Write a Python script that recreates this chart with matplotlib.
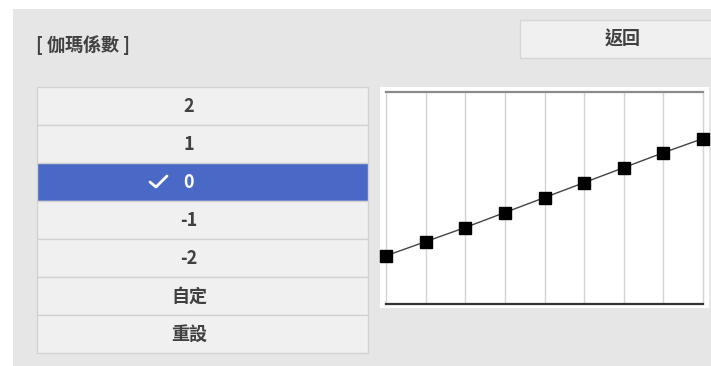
import matplotlib
matplotlib.use("Agg")
import matplotlib.pyplot as plt
from matplotlib.patches import Rectangle

plt.rcParams['font.family'] = ['Noto Sans CJK TC', 'DejaVu Sans']

title = "[ 伽瑪係數 ]"
back_label = "返回"
options = ["2", "1", "0", "-1", "-2", "自定", "重設"]
selected = "0"
curve_x = [0, 1, 2, 3, 4, 5, 6, 7, 8]
curve_y = [58, 75, 92, 110, 128, 146, 164, 182, 199]

W, H = 711, 366
fig = plt.figure(figsize=(W / 100, H / 100), dpi=100)
fig.patch.set_facecolor("white")

ui = fig.add_axes([0, 0, 1, 1], zorder=0)
ui.set_xlim(0, W)
ui.set_ylim(H, 0)
ui.axis("off")

txt = "#404040"
fs = 13
# gray panel
ui.add_patch(Rectangle((13, 9), W - 13, H - 9, facecolor="#e6e6e6", edgecolor="none"))
ui.text(36, 45, title, fontsize=fs, color=txt, va="center", ha="left", weight="bold")

# back button
ui.add_patch(Rectangle((520, 20), 200, 38, facecolor="#f0f0f0", edgecolor="#d6d6d6", lw=1))
ui.text(623, 39, back_label, fontsize=fs, color=txt, va="center", ha="center", weight="bold")

# list
top, rh, lx, rx = 87, 38, 37, 368
for i, opt in enumerate(options):
    y0 = top + i * rh
    sel = opt == selected
    ui.add_patch(Rectangle((lx, y0), rx - lx, rh,
                           facecolor="#4a69c6" if sel else "#f0f0f0",
                           edgecolor="#d2d2d2", lw=1))
    ui.text(189, y0 + rh / 2, opt, fontsize=fs, color="white" if sel else txt,
            va="center", ha="center", weight="bold")
    if sel:
        ui.plot([150, 156, 167], [y0 + 19, y0 + 24, y0 + 13], color="white", lw=2,
                solid_capstyle="round", solid_joinstyle="round")

# chart white panel
ui.add_patch(Rectangle((380, 87), 329, 221, facecolor="white", edgecolor="none"))

# chart axes
L, R, T, B = 386, 703, 92, 304
ax = fig.add_axes([L / W, (H - B) / H, (R - L) / W, (B - T) / H], zorder=1)
ax.set_facecolor("white")
ax.set_xlim(0, 8)
ax.set_ylim(0, 255)
ax.set_xticks(range(1, 8))
ax.set_yticks([])
ax.tick_params(length=0, labelbottom=False)
ax.grid(axis="x", color="#d4d4d4", lw=1)
for s in ["left", "right"]:
    ax.spines[s].set_color("#d4d4d4")
    ax.spines[s].set_linewidth(1)
ax.spines["top"].set_color("#8a8a8a")
ax.spines["top"].set_linewidth(1.6)
ax.spines["bottom"].set_color("#333333")
ax.spines["bottom"].set_linewidth(1.6)
ax.plot(curve_x, curve_y, color="#444444", lw=1, marker="s", ms=8,
        mfc="black", mec="black", clip_on=False, zorder=3)

fig.savefig("out.png", dpi=100)
